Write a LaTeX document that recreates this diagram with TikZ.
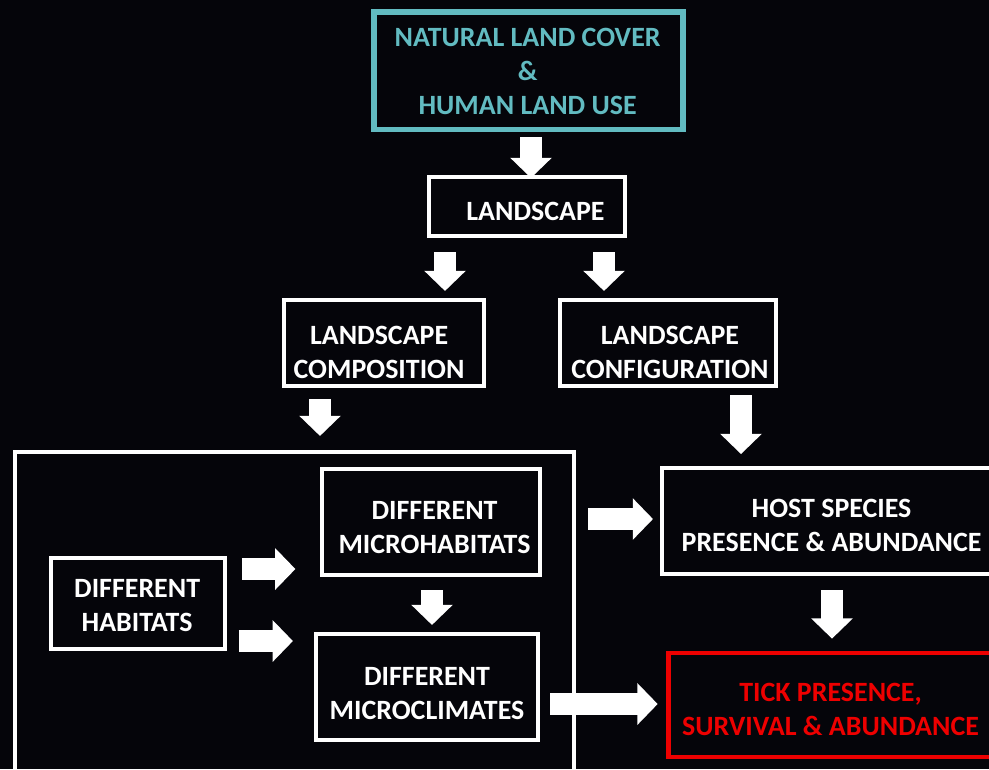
\documentclass[tikz,border=0pt]{standalone}
\usepackage{fontspec}
\setmainfont{Carlito}
\usetikzlibrary{arrows.meta}

\definecolor{bgblack}{RGB}{5,5,10}
\definecolor{coverteal}{RGB}{98,187,193}
\definecolor{tickred}{RGB}{238,0,0}

% text of a box, moved right by #1 and down by #2
\newcommand{\boxtext}[3]{\hspace*{#1}\raisebox{-#2}[\height][\depth]{\begin{tabular}{@{}c@{}}#3\end{tabular}}\hspace*{-#1}}

\tikzset{
	box/.style={draw=white, line width=2.3pt, inner sep=0pt,
		text=white, font=\fontsize{15.9}{19.3}\selectfont\bfseries},
	blockarrow/.style={draw=white, line width=12.5pt,
		-{Triangle[width=23pt, length=11.5pt]}}
}

\begin{document}
\begin{tikzpicture}[x=0.02cm, y=-0.02cm]
	\useasboundingbox (0,0) rectangle (989,769);
	\fill[bgblack] (0,0) rectangle (989,769);

	\node[box,
		draw=coverteal,
		text=coverteal,
		line width=3.4pt,
		minimum width=6.2cm,
		minimum height=2.36cm
	] (cover) at (528.5,70.5) {\boxtext{-0.5pt}{1.7pt}{NATURAL LAND COVER\\\&\\HUMAN LAND USE}};

	\node[box, minimum width=3.92cm, minimum height=1.18cm] (land) at (527,206.5) {\boxtext{4.8pt}{4.3pt}{LANDSCAPE}};

	\node[box, minimum width=4.0cm, minimum height=1.72cm] (comp) at (384,343) {\boxtext{-2.8pt}{6.8pt}{LANDSCAPE\\COMPOSITION}};
	\node[box, minimum width=4.32cm, minimum height=1.72cm] (config) at (668,343) {\boxtext{1.1pt}{6.8pt}{LANDSCAPE\\CONFIGURATION}};

	\node[box, minimum width=4.36cm, minimum height=2.12cm] (microhab) at (431,522) {\boxtext{2pt}{4.3pt}{DIFFERENT\\MICROHABITATS}};
	\node[box, minimum width=3.48cm, minimum height=1.82cm] (hab) at (138,603.5) {\boxtext{-0.5pt}{2.6pt}{DIFFERENT\\HABITATS}};
	\node[box, minimum width=4.44cm, minimum height=2.12cm] (microclim) at (427,687) {\boxtext{0pt}{5.1pt}{DIFFERENT\\MICROCLIMATES}};

	\node[box, minimum width=6.62cm, minimum height=2.12cm] (host) at (827.5,521) {\boxtext{2.3pt}{3.7pt}{HOST SPECIES\\PRESENCE \& ABUNDANCE}};
	\node[box,
		draw=tickred,
		text=tickred,
		line width=2.8pt,
		minimum width=6.5cm,
		minimum height=2.08cm
	] (tick) at (830.5,705) {\boxtext{0pt}{4pt}{TICK PRESENCE,\\SURVIVAL \& ABUNDANCE}};

	% arrows between the boxes
	\draw[blockarrow, shorten <=2.8pt, shorten >=-1.7pt] (cover.south -| 531,0) -- (land.north -| 531,0);
	\draw[blockarrow, shorten <=8pt, shorten >=4pt] (land.south -| 445,0) -- (comp.north -| 445,0);
	\draw[blockarrow, shorten <=8pt, shorten >=4pt] (land.south -| 604,0) -- (config.north -| 604,0);
	\draw[blockarrow, shorten <=4pt, shorten >=6.8pt] (config.south -| 741,0) -- (host.north -| 741,0);
	\draw[blockarrow, shorten <=8.5pt, shorten >=14pt] (hab.east |- 0,569) -- (microhab.west |- 0,569);
	\draw[blockarrow, shorten <=6.8pt, shorten >=12pt] (hab.east |- 0,641) -- (microclim.west |- 0,641);
	\draw[blockarrow, shorten <=7.4pt, shorten >=4pt] (microhab.south -| 432,0) -- (microclim.north -| 432,0);
	\draw[blockarrow, shorten <=8pt, shorten >=6.8pt] (host.south -| 832,0) -- (tick.north -| 832,0);
	\draw[blockarrow, shorten <=5.7pt, shorten >=4.5pt] (microclim.east |- 0,704) -- (tick.west |- 0,704);

	% frame round the habitat boxes
	\node[box, minimum width=11.2cm, minimum height=6.96cm] (zone) at (294.5,626) {};

	\draw[blockarrow, shorten <=6.2pt, shorten >=8pt] (comp.south -| 320,0) -- (zone.north -| 320,0);
	\draw[blockarrow, shorten <=6.8pt, shorten >=4pt] (zone.east |- 0,519) -- (host.west |- 0,519);
\end{tikzpicture}
\end{document}
